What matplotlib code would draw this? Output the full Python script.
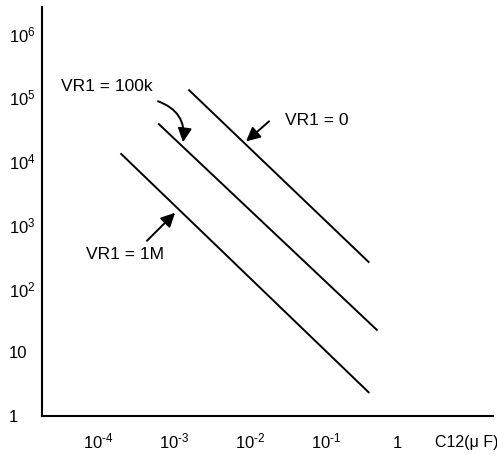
import matplotlib.pyplot as plt
import matplotlib.transforms as mtransforms
import numpy as np

plt.rcParams['font.family'] = ['Liberation Sans', 'DejaVu Sans']
plt.rcParams['mathtext.fontset'] = 'custom'
plt.rcParams['mathtext.rm'] = 'Liberation Sans'
plt.rcParams['mathtext.it'] = 'Liberation Sans'

# C12 (uF) against the output value, one straight segment per VR1 setting
c_1m = [2.3e-4, 0.43]
f_1m = [1.33e4, 2.3]
c_100k = [7.2e-4, 0.55]
f_100k = [3.9e4, 22]
c_0 = [1.8e-3, 0.43]
f_0 = [1.33e5, 255]

x_ticks = [1e-4, 1e-3, 1e-2, 1e-1, 1]
x_labels = [r'$\mathregular{10^{\text{-}4}}$', r'$\mathregular{10^{\text{-}3}}$',
            r'$\mathregular{10^{\text{-}2}}$', r'$\mathregular{10^{\text{-}1}}$',
            '1']
y_ticks = [1, 10, 1e2, 1e3, 1e4, 1e5, 1e6]
y_labels = ['1', '10', r'$\mathregular{10^2}$', r'$\mathregular{10^3}$',
            r'$\mathregular{10^4}$', r'$\mathregular{10^5}$',
            r'$\mathregular{10^6}$']

fig = plt.figure(figsize=(4.97, 4.55), dpi=100)
ax = fig.add_axes([0.0845, 0.0857, 0.9075, 0.899])
ax.set_xscale('log')
ax.set_yscale('log')
ax.set_xlim(10**-4.67, 10**1.26)
ax.set_ylim(10**0.03, 10**6.42)

for c, f in [(c_1m, f_1m), (c_100k, f_100k), (c_0, f_0)]:
    ax.plot(c, f, color='black', lw=1.4, solid_capstyle='butt')

arrow = dict(arrowstyle='-|>,head_length=0.6,head_width=0.3',
             color='black', lw=1.4, shrinkA=0, shrinkB=0, mutation_scale=14)
ax.annotate('', xy=(10**-1.987, 10**4.31), xytext=(10**-1.684, 10**4.625),
            arrowprops=arrow)
ax.annotate('', xy=(10**-2.816, 10**4.297), xytext=(10**-3.145, 10**4.94),
            arrowprops=dict(arrow, connectionstyle='arc3,rad=-0.4'))
ax.annotate('', xy=(10**-2.92, 10**3.19), xytext=(10**-3.29, 10**2.75),
            arrowprops=arrow)

ax.text(10**-1.474, 10**4.64, 'VR1 = 0', fontsize=12.5, va='center')
ax.text(10**-4.42, 10**5.17, 'VR1 = 100k', fontsize=12.5, va='center')
ax.text(10**-4.09, 10**2.53, 'VR1 = 1M', fontsize=12.5, va='center')

ax.set_xticks(x_ticks, x_labels)
ax.set_yticks(y_ticks, y_labels)
ax.minorticks_off()
ax.tick_params(length=0, labelsize=12)
ax.tick_params(axis='x', pad=11)
ax.tick_params(axis='y', pad=24)
plt.setp(ax.get_yticklabels(), ha='left')

# the "10" sits on the decade, the exponent hangs off to the right;
# the plain "1" drops to the same line as the "10"s
shift = mtransforms.ScaledTranslation(4 / 72, 0, fig.dpi_scale_trans)
drop = mtransforms.ScaledTranslation(0, -3.5 / 72, fig.dpi_scale_trans)
xlabs = ax.get_xticklabels()
for lab in xlabs[:-1]:
    lab.set_transform(lab.get_transform() + shift)
xlabs[-1].set_transform(xlabs[-1].get_transform() + drop)

ax.set_xlabel('C12(\u03bc F)', fontsize=11.5, ha='left', va='center')
ax.xaxis.set_label_coords(0.871, -0.064)

for side in ['top', 'right']:
    ax.spines[side].set_visible(False)
for side in ['left', 'bottom']:
    ax.spines[side].set_linewidth(1.5)

fig.savefig('out.png', dpi=100)
